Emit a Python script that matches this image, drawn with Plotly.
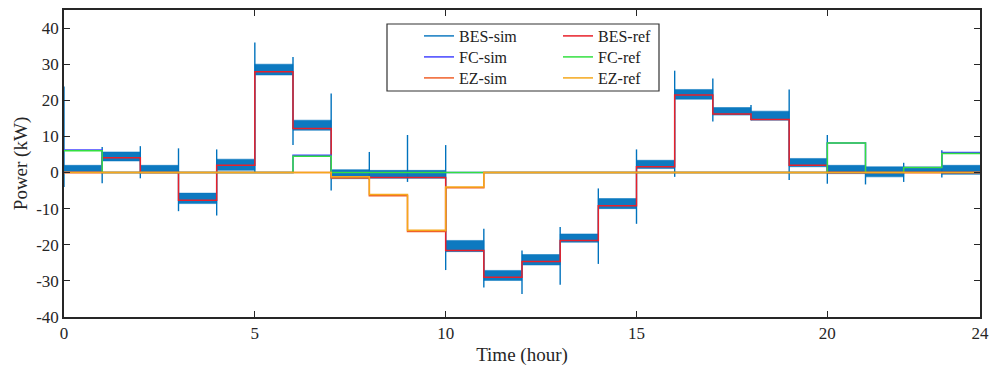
import plotly.graph_objects as go

hours = list(range(25))

# BES reference (hourly step values)
bes_ref = [0, 4.1, 0, -7.7, 2.0, 27.9, 12.2, -1.2, -1.4, -1.4, -21.6, -29.0, -24.6,
           -18.8, -9.2, 1.6, 21.5, 16.2, 14.7, 2.0, 0, 0, 0, 0]
# BES simulated: envelope of fast oscillation per hour
bes_sim_low = [0.2, 3.2, 0.2, -8.6, 0.6, 27.0, 11.7, -1.7, -1.6, -1.6, -21.9, -29.9, -25.6,
               -19.3, -10.0, 1.1, 20.3, 15.9, 14.5, 1.6, -0.3, -1.2, 0.0, -0.5]
bes_sim_high = [2.0, 5.7, 2.0, -5.7, 3.7, 30.0, 14.5, 0.8, 0.6, 0.6, -18.8, -27.1, -22.7,
                -17.0, -7.2, 3.4, 23.0, 18.0, 17.0, 3.9, 2.0, 1.6, 1.5, 2.0]
# transient spikes at each hourly switch (min, max)
spike_t = list(range(24))
spike_min = [-4, -3, -1.6, -10.7, -11.9, 0, 7.6, -5, -2, -2.6, -27, -31.8, -33.6, -31.1,
             -25.3, -14.2, -1.2, 14.1, 14.5, -2.1, -3.1, -3.3, -2.6, -1.4]
spike_max = [23.8, 7.1, 7.3, 6.7, 6.4, 36, 32, 21.9, 5.7, 10.4, 7.6, -15.6, -21.6, -15.1,
             -4.4, 6.4, 28.2, 26.0, 18.7, 23, 10.4, 1.6, 2.7, 6.2]

fc_ref = [6, 0, 0, 0, 0, 0, 4.5, 0, 0, 0, 0, 0, 0, 0, 0, 0, 0, 0, 0, 0, 8.2, 0, 1.4, 5.3]
fc_sim = [6.25, 0, 0, 0, 0, 0, 4.75, 0, 0, 0, 0, 0, 0, 0, 0, 0, 0, 0, 0, 0, 8.2, 0, 1.4, 5.55]

ez_ref = [0, 0, 0, 0, 0, 0, 0, -1.2, -6.1, -16.0, -4.0, 0, 0, 0, 0, 0, 0, 0, 0, 0, 0, 0, 0, 0]
ez_sim = [0, 0, 0, 0, 0, 0, 0, -1.5, -6.4, -16.3, -4.2, 0, 0, 0, 0, 0, 0, 0, 0, 0, 0, 0, 0, 0]

x_ticks = [0, 5, 10, 15, 20, 24]
y_ticks = [-40, -30, -20, -10, 0, 10, 20, 30, 40]
y_tick_labels = ["-40", "-30", "-20", "-10", "0", "10", "20", "30", "40"]

C_BES = "#0072BD"
C_BESREF = "#E8202A"
C_FC = "#4545FF"
C_FCREF = "#33E040"
C_EZ = "#F0602A"
C_EZREF = "#F5A81C"

def step(v):
    return v + [v[-1]]

fig = go.Figure()

# BES-sim band
fig.add_trace(go.Scatter(x=hours, y=step(bes_sim_low), mode="lines", line_shape="hv",
                         line=dict(width=0.5, color=C_BES), showlegend=False, hoverinfo="skip"))
fig.add_trace(go.Scatter(x=hours, y=step(bes_sim_high), mode="lines", line_shape="hv",
                         line=dict(width=0.5, color=C_BES), fill="tonexty",
                         fillcolor="rgba(0,114,189,0.95)", showlegend=False, hoverinfo="skip"))
sx, sy = [], []
for t, lo, hi in zip(spike_t, spike_min, spike_max):
    sx += [t, t, None]
    sy += [lo, hi, None]
fig.add_trace(go.Scatter(x=sx, y=sy, mode="lines", line=dict(width=1.4, color=C_BES),
                         name="BES-sim", legend="legend"))

fig.add_trace(go.Scatter(x=hours, y=step(bes_ref), mode="lines", line_shape="hv",
                         line=dict(width=1.5, color=C_BESREF), name="BES-ref", legend="legend2"))
fig.add_trace(go.Scatter(x=hours, y=step(fc_sim), mode="lines", line_shape="hv",
                         line=dict(width=1.5, color=C_FC), name="FC-sim", legend="legend3"))
fig.add_trace(go.Scatter(x=hours, y=step(fc_ref), mode="lines", line_shape="hv",
                         line=dict(width=1.5, color=C_FCREF), name="FC-ref", legend="legend4"))
fig.add_trace(go.Scatter(x=hours, y=step(ez_sim), mode="lines", line_shape="hv",
                         line=dict(width=1.5, color=C_EZ), name="EZ-sim", legend="legend5"))
fig.add_trace(go.Scatter(x=hours, y=step(ez_ref), mode="lines", line_shape="hv",
                         line=dict(width=1.5, color=C_EZREF), name="EZ-ref", legend="legend6"))

font = "Liberation Serif, Times New Roman, serif"
leg_common = dict(bgcolor="rgba(0,0,0,0)", borderwidth=0, font=dict(family=font, size=16, color="#222"),
                  yanchor="top", xanchor="left", tracegroupgap=0, itemwidth=30)

PLOT_L, PLOT_W, PLOT_B, PLOT_H = 64, 916, 317, 307
def px(xp):
    return (xp - PLOT_L) / PLOT_W
def py(yp):
    return (PLOT_B - yp) / PLOT_H

col_x = [419, 558]
row_y = [19, 40, 61]

fig.update_layout(
    width=991, height=371,
    margin=dict(l=64, r=11, t=10, b=54),
    paper_bgcolor="white", plot_bgcolor="white",
    font=dict(family=font, size=17, color="#262626"),
    legend=dict(x=px(col_x[0]), y=py(row_y[0]), **leg_common),
    legend2=dict(x=px(col_x[1]), y=py(row_y[0]), **leg_common),
    legend3=dict(x=px(col_x[0]), y=py(row_y[1]), **leg_common),
    legend4=dict(x=px(col_x[1]), y=py(row_y[1]), **leg_common),
    legend5=dict(x=px(col_x[0]), y=py(row_y[2]), **leg_common),
    legend6=dict(x=px(col_x[1]), y=py(row_y[2]), **leg_common),
    shapes=[dict(type="rect", xref="paper", yref="paper",
                 x0=px(387), x1=px(659), y0=py(91), y1=py(24),
                 line=dict(color="#333", width=1.2), fillcolor="white", layer="below")],
    xaxis=dict(range=[0, 24], tickvals=x_ticks, ticktext=[str(v) for v in x_ticks],
               showline=True, linecolor="#262626", linewidth=1.6, mirror="ticks",
               ticks="inside", ticklen=6, tickwidth=1.3, tickcolor="#262626",
               showgrid=False, zeroline=False, automargin=False,
               title=dict(text="Time (hour)", font=dict(size=19), standoff=5)),
    yaxis=dict(range=[-40, 45], tickvals=y_ticks, ticktext=y_tick_labels,
               showline=True, linecolor="#262626", linewidth=1.6, mirror="ticks",
               ticks="inside", ticklen=6, tickwidth=1.3, tickcolor="#262626",
               showgrid=False, zeroline=False, automargin=False,
               title=dict(text="Power (kW)", font=dict(size=19), standoff=3)),
)

fig.write_html("out.html")
